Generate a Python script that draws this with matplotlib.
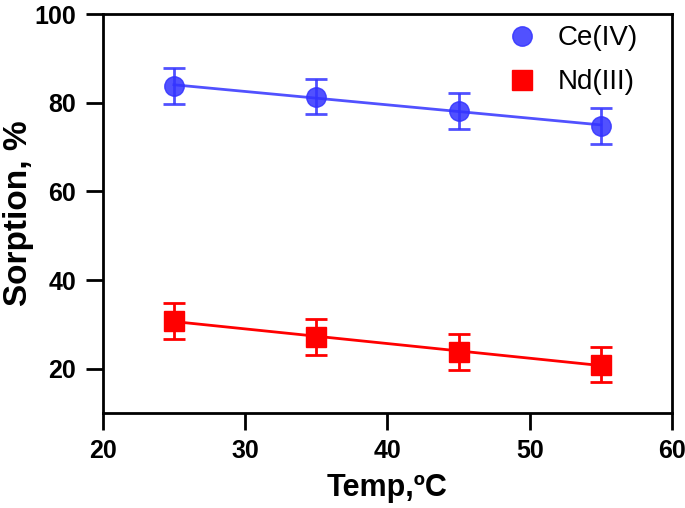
import numpy as np
import matplotlib
matplotlib.use("Agg")
import matplotlib.pyplot as plt
from matplotlib.lines import Line2D

plt.rcParams['font.family'] = ['Liberation Sans', 'DejaVu Sans']

# data
temp = [25, 35, 45, 55]
ce_sorption = [83.8, 81.4, 78.2, 74.8]
nd_sorption = [30.8, 27.2, 23.8, 20.9]
ce_err = [4, 4, 4, 4]
nd_err = [4, 4, 4, 4]

fig = plt.figure(figsize=(6.85, 5.08), dpi=100)
ax = fig.add_axes([0.150, 0.187, 0.831, 0.785])

series = [
    (ce_sorption, ce_err, 'o', '#3333ff', 0.85, 'Ce(IV)'),
    (nd_sorption, nd_err, 's', '#ff0000', 1.0, 'Nd(III)'),
]
handles = []
for vals, err, mk, col, a, lab in series:
    ax.errorbar(temp, vals, yerr=err, fmt=mk, color=col, alpha=a,
                markersize=14, capsize=8, elinewidth=2, capthick=2, zorder=3)
    # linear fit line
    k, b = np.polyfit(temp, vals, 1)
    xs = np.array([temp[0], temp[-1]])
    ax.plot(xs, k * xs + b, color=col, lw=2, alpha=a, zorder=2)
    handles.append(Line2D([], [], ls='none', marker=mk, color=col, alpha=a,
                          markersize=14, label=lab))

ax.set_xlim(20, 60)
ax.set_ylim(10, 100)
ax.set_xticks([20, 30, 40, 50, 60])
ax.set_yticks([20, 40, 60, 80, 100])

for s in ax.spines.values():
    s.set_linewidth(2)
ax.tick_params(direction='out', length=12, width=2, labelsize=18, pad=7)
for t in ax.get_xticklabels() + ax.get_yticklabels():
    t.set_fontweight('bold')

ax.set_xlabel('Temp,ºC', fontsize=22, fontweight='bold', labelpad=7)
ax.set_ylabel('Sorption, %', fontsize=24, fontweight='bold')
ax.yaxis.set_label_coords(-0.121, 0.5)

ax.legend(handles=handles, loc='upper right', frameon=False, fontsize=20,
          labelspacing=0.65, handletextpad=0.3, borderaxespad=0.0,
          bbox_to_anchor=(0.96, 1.0))

fig.savefig('out.png', dpi=100)
